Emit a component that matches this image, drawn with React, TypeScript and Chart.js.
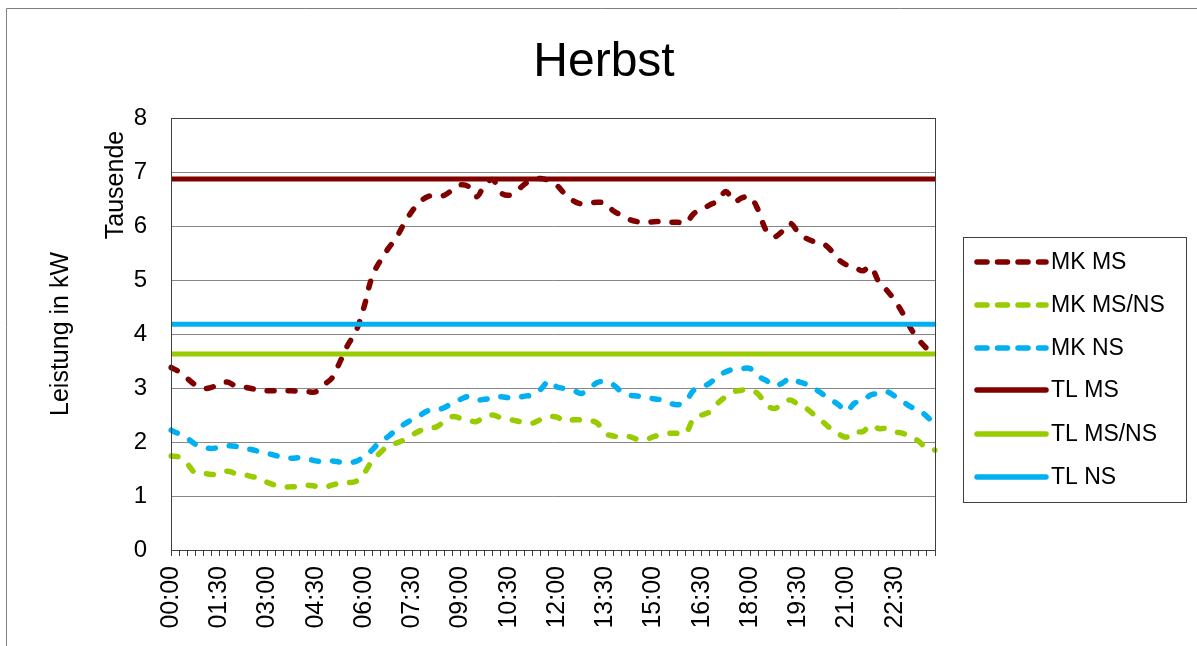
import React, { useEffect, useRef } from "react";
import { Chart, registerables } from "chart.js";

Chart.register(...registerables);

const TIMES = [
  "00:00", "00:15", "00:30", "00:45", "01:00", "01:15", "01:30", "01:45",
  "02:00", "02:15", "02:30", "02:45", "03:00", "03:15", "03:30", "03:45",
  "04:00", "04:15", "04:30", "04:45", "05:00", "05:15", "05:30", "05:45",
  "06:00", "06:15", "06:30", "06:45", "07:00", "07:15", "07:30", "07:45",
  "08:00", "08:15", "08:30", "08:45", "09:00", "09:15", "09:30", "09:45",
  "10:00", "10:15", "10:30", "10:45", "11:00", "11:15", "11:30", "11:45",
  "12:00", "12:15", "12:30", "12:45", "13:00", "13:15", "13:30", "13:45",
  "14:00", "14:15", "14:30", "14:45", "15:00", "15:15", "15:30", "15:45",
  "16:00", "16:15", "16:30", "16:45", "17:00", "17:15", "17:30", "17:45",
  "18:00", "18:15", "18:30", "18:45", "19:00", "19:15", "19:30", "19:45",
  "20:00", "20:15", "20:30", "20:45", "21:00", "21:15", "21:30", "21:45",
  "22:00", "22:15", "22:30", "22:45", "23:00", "23:15", "23:30", "23:45",
];

// Werte in Tausend kW
const MK_MS = [
  3.38, 3.30, 3.18, 3.06, 2.99, 3.01, 3.07, 3.11, 3.04, 3.02, 2.99, 2.96,
  2.95, 2.95, 2.95, 2.95, 2.94, 2.93, 2.93, 3.06, 3.18, 3.48, 3.80, 4.05,
  4.50, 5.06, 5.35, 5.58, 5.78, 6.05, 6.28, 6.45, 6.55, 6.54, 6.57, 6.67,
  6.76, 6.73, 6.54, 6.76, 6.86, 6.62, 6.57, 6.65, 6.78, 6.86, 6.88, 6.84,
  6.75, 6.59, 6.47, 6.41, 6.42, 6.44, 6.42, 6.28, 6.20, 6.12, 6.08, 6.06,
  6.08, 6.08, 6.07, 6.07, 6.05, 6.23, 6.31, 6.39, 6.47, 6.64, 6.45, 6.52,
  6.54, 6.30, 5.92, 5.80, 5.90, 6.05, 5.88, 5.77, 5.71, 5.68, 5.56, 5.38,
  5.28, 5.24, 5.17, 5.25, 4.97, 4.81, 4.62, 4.38, 4.10, 3.89, 3.73, 3.64,
];

const MK_MS_NS = [
  1.74, 1.72, 1.60, 1.43, 1.42, 1.40, 1.41, 1.46, 1.42, 1.40, 1.36, 1.33,
  1.25, 1.20, 1.17, 1.17, 1.18, 1.20, 1.18, 1.16, 1.20, 1.24, 1.25, 1.27,
  1.42, 1.65, 1.80, 1.93, 1.98, 2.04, 2.13, 2.21, 2.25, 2.28, 2.38, 2.47,
  2.44, 2.40, 2.38, 2.47, 2.50, 2.45, 2.42, 2.39, 2.36, 2.35, 2.42, 2.47,
  2.46, 2.38, 2.41, 2.41, 2.40, 2.35, 2.16, 2.11, 2.10, 2.10, 2.05, 2.04,
  2.10, 2.13, 2.16, 2.16, 2.16, 2.44, 2.50, 2.56, 2.72, 2.84, 2.93, 2.96,
  2.96, 2.89, 2.69, 2.62, 2.70, 2.78, 2.69, 2.62, 2.50, 2.38, 2.25, 2.15,
  2.09, 2.19, 2.19, 2.31, 2.25, 2.25, 2.19, 2.16, 2.10, 2.01, 1.88, 1.85,
];

const MK_NS = [
  2.22, 2.15, 2.07, 1.96, 1.90, 1.88, 1.90, 1.93, 1.92, 1.88, 1.86, 1.82,
  1.79, 1.75, 1.72, 1.70, 1.71, 1.69, 1.65, 1.64, 1.65, 1.63, 1.62, 1.64,
  1.73, 1.85, 2.01, 2.10, 2.23, 2.33, 2.42, 2.50, 2.58, 2.59, 2.64, 2.72,
  2.79, 2.84, 2.78, 2.79, 2.81, 2.84, 2.82, 2.82, 2.85, 2.87, 2.98, 3.13,
  3.02, 2.99, 2.96, 2.90, 2.99, 3.10, 3.12, 3.06, 2.93, 2.87, 2.85, 2.83,
  2.80, 2.78, 2.72, 2.69, 2.75, 2.96, 3.02, 3.09, 3.22, 3.30, 3.35, 3.36,
  3.36, 3.22, 3.14, 3.04, 3.09, 3.18, 3.12, 3.07, 2.99, 2.89, 2.79, 2.69,
  2.57, 2.72, 2.76, 2.87, 2.90, 2.93, 2.85, 2.75, 2.65, 2.59, 2.47, 2.33,
];

const TL_MS = 6.87;
const TL_MS_NS = 3.63;
const TL_NS = 4.18;

const SERIES_NAMES = ["MK MS", "MK MS/NS", "MK NS", "TL MS", "TL MS/NS", "TL NS"];
const TITLE = "Herbst";
const Y_TITLE = "Leistung in kW";
const UNIT_LABEL = "Tausende";
const Y_MIN = 0;
const Y_MAX = 8;
const LABEL_EVERY = 6;

const RED = "#800000";
const GREEN = "#99CC00";
const BLUE = "#00B0F0";
const FONT = "'Liberation Sans', Arial, sans-serif";

export default function App() {
  const ref = useRef<HTMLCanvasElement>(null);

  useEffect(() => {
    const canvas = ref.current;
    if (!canvas) return;

    const decor = {
      id: "decor",
      beforeDraw(chart: any) {
        const ctx = chart.ctx;
        ctx.save();
        ctx.fillStyle = "#ffffff";
        ctx.fillRect(0, 0, chart.width, chart.height);
        ctx.strokeStyle = "#7f7f7f";
        ctx.lineWidth = 1;
        ctx.beginPath();
        ctx.moveTo(6.5, chart.height);
        ctx.lineTo(6.5, 8.5);
        ctx.lineTo(chart.width, 8.5);
        ctx.stroke();
        ctx.restore();
      },
      afterDraw(chart: any) {
        const ctx = chart.ctx;
        const a = chart.chartArea;
        ctx.save();
        // plot frame
        ctx.strokeStyle = "#404040";
        ctx.lineWidth = 1;
        ctx.strokeRect(a.left + 0.5, a.top + 0.5, a.right - a.left, a.bottom - a.top);

        ctx.fillStyle = "#000000";
        // title
        ctx.font = `48px ${FONT}`;
        ctx.textAlign = "center";
        ctx.textBaseline = "alphabetic";
        ctx.fillText(TITLE, 604, 76);

        // rotated axis texts
        ctx.font = `25px ${FONT}`;
        ctx.save();
        ctx.translate(123, 185);
        ctx.rotate(-Math.PI / 2);
        ctx.fillText(UNIT_LABEL, 0, 0);
        ctx.restore();
        ctx.save();
        ctx.translate(68, 334);
        ctx.rotate(-Math.PI / 2);
        ctx.fillText(Y_TITLE, 0, 0);
        ctx.restore();

        // legend
        const lx = 963, ly = 237, lw = 223, lh = 265;
        ctx.strokeStyle = "#404040";
        ctx.strokeRect(lx + 0.5, ly + 0.5, lw, lh);
        const rows = [262, 305, 348, 390, 434, 477];
        ctx.font = `23px ${FONT}`;
        ctx.textAlign = "left";
        ctx.textBaseline = "middle";
        chart.data.datasets.forEach((ds: any, i: number) => {
          const y = rows[i];
          ctx.save();
          ctx.strokeStyle = ds.borderColor;
          ctx.lineWidth = 5.5;
          ctx.lineCap = "round";
          ctx.setLineDash(ds.borderDash && ds.borderDash.length ? [10, 10.5] : []);
          ctx.beginPath();
          ctx.moveTo(977, y);
          ctx.lineTo(1046, y);
          ctx.stroke();
          ctx.restore();
          ctx.fillStyle = "#000000";
          ctx.fillText(ds.label, 1051, y + 1);
        });
        ctx.restore();
      },
    };

    const dashed = (label: string, data: number[], color: string) => ({
      label,
      data,
      borderColor: color,
      backgroundColor: color,
      borderWidth: 5.5,
      borderDash: [7, 14],
      borderCapStyle: "round" as const,
      borderJoinStyle: "round" as const,
      pointRadius: 0,
      tension: 0.35,
      fill: false,
      order: 1,
    });
    const solid = (label: string, value: number, color: string) => ({
      label,
      data: TIMES.map(() => value),
      borderColor: color,
      backgroundColor: color,
      borderWidth: 5,
      pointRadius: 0,
      tension: 0,
      fill: false,
      order: 0,
    });

    const chart = new Chart(canvas, {
      type: "line",
      data: {
        labels: TIMES,
        datasets: [
          dashed(SERIES_NAMES[0], MK_MS, RED),
          dashed(SERIES_NAMES[1], MK_MS_NS, GREEN),
          dashed(SERIES_NAMES[2], MK_NS, BLUE),
          solid(SERIES_NAMES[3], TL_MS, RED),
          solid(SERIES_NAMES[4], TL_MS_NS, GREEN),
          solid(SERIES_NAMES[5], TL_NS, BLUE),
        ],
      },
      options: {
        responsive: false,
        maintainAspectRatio: false,
        animation: false,
        layout: { padding: { left: 0, top: 118, right: 262, bottom: 0 } },
        plugins: {
          legend: { display: false },
          title: { display: false },
          tooltip: { enabled: false },
        },
        scales: {
          x: {
            type: "category",
            offset: false,
            afterFit: (s: any) => { s.height = 96; },
            grid: {
              drawOnChartArea: false,
              drawTicks: true,
              tickLength: 6,
              color: "#404040",
            },
            border: { display: true, color: "#404040", width: 1 },
            ticks: {
              autoSkip: false,
              maxRotation: 90,
              minRotation: 90,
              padding: 10,
              color: "#000000",
              font: { family: FONT, size: 25 },
              callback: (_v: any, idx: number) => (idx % LABEL_EVERY === 0 ? TIMES[idx] : ""),
            },
          },
          y: {
            min: Y_MIN,
            max: Y_MAX,
            afterFit: (s: any) => { s.width = 171; },
            grid: { color: "#878787", drawTicks: false, lineWidth: 1 },
            border: { display: true, color: "#404040", width: 1 },
            ticks: {
              stepSize: 1,
              padding: 24,
              color: "#000000",
              font: { family: FONT, size: 24 },
            },
          },
        },
      },
      plugins: [decor],
    });

    return () => chart.destroy();
  }, []);

  return (
    <div style={{ position: "fixed", left: 0, top: 0, width: 1197, height: 646, background: "#ffffff" }}>
      <canvas ref={ref} width={1197} height={646} style={{ display: "block", width: 1197, height: 646 }} />
    </div>
  );
}
